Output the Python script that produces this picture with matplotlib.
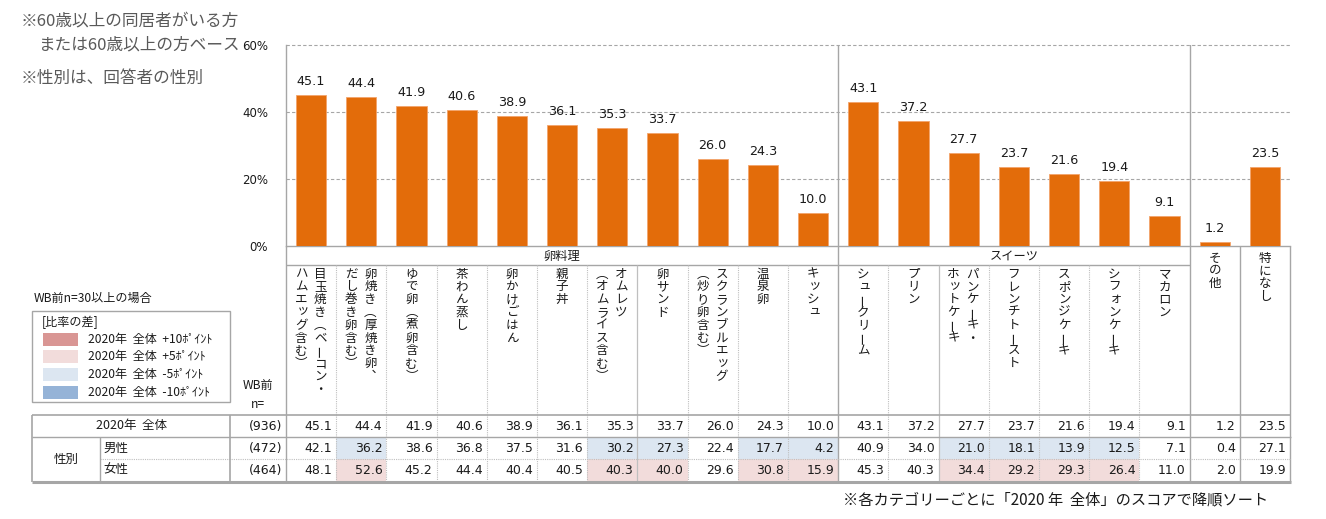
import matplotlib
matplotlib.use('Agg')
import matplotlib.pyplot as plt
from matplotlib.patches import Rectangle
import numpy as np

plt.rcParams['font.family'] = ['Noto Sans CJK JP', 'DejaVu Sans']

# ---------------- data ----------------
categories = [
    ["目玉焼き（ベーコン・", "ハムエッグ含む）"],
    ["卵焼き（厚焼き卵、", "だし巻き卵含む）"],
    ["ゆで卵（煮卵含む）"],
    ["茶わん蒸し"],
    ["卵かけごはん"],
    ["親子丼"],
    ["オムレツ", "（オムライス含む）"],
    ["卵サンド"],
    ["スクランブルエッグ", "（炒り卵含む）"],
    ["温泉卵"],
    ["キッシュ"],
    ["シュークリーム"],
    ["プリン"],
    ["パンケーキ・", "ホットケーキ"],
    ["フレンチトースト"],
    ["スポンジケーキ"],
    ["シフォンケーキ"],
    ["マカロン"],
    ["その他"],
    ["特になし"],
]
group_names = ["卵料理", "スイーツ"]
group_bounds = [(0, 11), (11, 18)]

total = [45.1, 44.4, 41.9, 40.6, 38.9, 36.1, 35.3, 33.7, 26.0, 24.3, 10.0,
         43.1, 37.2, 27.7, 23.7, 21.6, 19.4, 9.1, 1.2, 23.5]
male = [42.1, 36.2, 38.6, 36.8, 37.5, 31.6, 30.2, 27.3, 22.4, 17.7, 4.2,
        40.9, 34.0, 21.0, 18.1, 13.9, 12.5, 7.1, 0.4, 27.1]
female = [48.1, 52.6, 45.2, 44.4, 40.4, 40.5, 40.3, 40.0, 29.6, 30.8, 15.9,
          45.3, 40.3, 34.4, 29.2, 29.3, 26.4, 11.0, 2.0, 19.9]
row_labels = ["2020年  全体", "男性", "女性"]
row_n = [936, 472, 464]
yticks = [0, 20, 40, 60]
legend_labels = ["2020年  全体  +10ﾎﾟｲﾝﾄ", "2020年  全体  +5ﾎﾟｲﾝﾄ",
                 "2020年  全体  -5ﾎﾟｲﾝﾄ", "2020年  全体  -10ﾎﾟｲﾝﾄ"]

# ---------------- style ----------------
ORANGE = '#E36C0A'
GRID = '#A6A6A6'
DOT = '#BFBFBF'
TXT = '#1A1A1A'
NOTE = '#595959'
C_P10, C_P5, C_M5, C_M10 = '#D99694', '#F2DCDB', '#DCE6F1', '#95B3D7'
legend_colors = [C_P10, C_P5, C_M5, C_M10]
NUMFONT = ['DejaVu Sans']

W, H = 1326, 519
fig = plt.figure(figsize=(W / 100, H / 100), dpi=100)
fig.patch.set_facecolor('white')

X0, X1 = 286, 1290
Y_TOP, Y_ZERO, Y_BOT = 45, 246, 482
N = len(total)

# ---------------- bar axes ----------------
ax = fig.add_axes([X0 / W, 1 - Y_ZERO / H, (X1 - X0) / W, (Y_ZERO - Y_TOP) / H])
ax.set_xlim(0, N)
ax.set_ylim(0, 60)
xc = np.arange(N) + 0.5
ax.bar(xc, total, width=0.6, color=ORANGE, edgecolor='#F3A46B',
       linewidth=0.6, zorder=3)
for xi, v in zip(xc, total):
    ax.annotate(f"{v:.1f}", (xi, v), xytext=(0, 5), textcoords='offset points',
                ha='center', va='bottom', fontsize=9.2, color=TXT,
                family=NUMFONT, zorder=4)
ax.hlines([t for t in yticks if t > 0], 0, N, colors=GRID, linewidth=0.8,
          linestyles=(0, (3, 2)), clip_on=False, zorder=1)
ax.set_yticks(yticks)
ax.set_yticklabels([f"{t}%" for t in yticks], family=NUMFONT)
ax.tick_params(axis='y', length=0, pad=13, labelsize=8.5, labelcolor=TXT)
ax.set_xticks([])
for s in ['top', 'right']:
    ax.spines[s].set_visible(False)
for s in ['left', 'bottom']:
    ax.spines[s].set_color(GRID)
    ax.spines[s].set_linewidth(1.0)
for a, b in group_bounds:
    ax.axvline(b, color=GRID, linewidth=1.0, zorder=2)
ax.set_facecolor('none')

# ---------------- table axes (x: categories, y: pixel rows) ----------------
axt = fig.add_axes([X0 / W, 1 - (Y_BOT + 1) / H, (X1 - X0) / W, (Y_BOT + 1 - Y_ZERO) / H])
axt.set_xlim(0, N)
axt.set_ylim(Y_BOT + 1, Y_ZERO)
axt.axis('off')

ROW_TOP = [415, 437, 459]
ROW_H = 22
HDR = 265

axt.hlines(HDR, 0, group_bounds[-1][1], colors=GRID, linewidth=1.0)
for name, (a, b) in zip(group_names, group_bounds):
    axt.text((a + b) / 2, (Y_ZERO + HDR) / 2 + 0.5, name, ha='center', va='center',
             fontsize=8.8, color=TXT)

solid_full = {11, 18, 19}
solid_light = {7, 13}
for i in range(0, N + 1):
    if i == 0 or i == N or i in solid_full:
        axt.vlines(i, Y_ZERO, Y_BOT, colors=GRID, linewidth=1.0, clip_on=False)
    elif i in solid_light:
        axt.vlines(i, HDR, Y_BOT, colors=DOT, linewidth=0.9, clip_on=False)
    else:
        axt.vlines(i, HDR, Y_BOT, colors=DOT, linewidth=0.8,
                   linestyles=(0, (1, 1)), clip_on=False)

# vertical (tategaki) category labels
STEP = 12.8
small = set("ッュョャィォェァゥっょゃゅぁぃぅぇぉ")
vert = {"（": "︵", "）": "︶", "、": "︑"}
rot = {"ー": 90}
for i, lines in enumerate(categories):
    start = 274 if i < group_bounds[-1][1] else 258
    nl = len(lines)
    offs = [0.0] if nl == 1 else [0.18, -0.2]
    for li, line in enumerate(lines):
        xcol = i + 0.5 + offs[li]
        for k, ch in enumerate(line):
            y = start + k * STEP
            dx, dy = 0.0, 0.0
            if ch in small:
                dx, dy = 0.03, -1.5
            axt.text(xcol + dx, y + dy, vert.get(ch, ch), ha='center', va='center',
                     rotation=rot.get(ch, 0), rotation_mode='anchor',
                     fontsize=9, color=TXT)

def cell_color(v, base):
    d = round(v - base, 1)
    if d >= 10:
        return C_P10
    if d >= 5:
        return C_P5
    if d <= -10:
        return C_M10
    if d <= -5:
        return C_M5
    return None

rows = [total, male, female]
for r, vals in enumerate(rows):
    for i, v in enumerate(vals):
        if r > 0:
            c = cell_color(v, total[i])
            if c:
                axt.add_patch(Rectangle((i, ROW_TOP[r]), 1, ROW_H, facecolor=c,
                                        edgecolor='none', zorder=0))
        axt.text(i + 1 - 0.08, ROW_TOP[r] + ROW_H / 2 + 0.5, f"{v:.1f}", ha='right',
                 va='center', fontsize=9, color=TXT, family=NUMFONT)

# ---------------- overlay ----------------
axo = fig.add_axes([0, 0, 1, 1])
axo.set_xlim(0, W)
axo.set_ylim(H, 0)
axo.axis('off')
axo.patch.set_alpha(0)

axo.text(21, 21, "※60歳以上の同居者がいる方", fontsize=12, color=NOTE, va='center')
axo.text(39, 45, "または60歳以上の方ベース", fontsize=12, color=NOTE, va='center')
axo.text(21, 78, "※性別は、回答者の性別", fontsize=12, color=NOTE, va='center')

axo.text(34, 298, "WB前n=30以上の場合", fontsize=8.7, color=TXT, va='center')
axo.add_patch(Rectangle((32, 311), 198, 91, facecolor='white', edgecolor=GRID, linewidth=1.0))
axo.text(42, 322, "[比率の差]", fontsize=8.7, color=TXT, va='center')
for k, (lab, col) in enumerate(zip(legend_labels, legend_colors)):
    yy = 339 + k * 17.7
    axo.add_patch(Rectangle((43, yy - 6.5), 35, 13, facecolor=col, edgecolor='none'))
    axo.text(88, yy, lab, fontsize=8.7, color=TXT, va='center')

axo.text(258, 386, "WB前", fontsize=8.7, color=TXT, ha='center', va='center')
axo.text(258, 405, "n=", fontsize=8.7, color=TXT, ha='center', va='center')

TL, TR = 32, X1 + 1
axo.hlines(ROW_TOP[0], TL, TR, colors=GRID, linewidth=1.2)
axo.hlines(ROW_TOP[1], TL, TR, colors=GRID, linewidth=1.0)
axo.hlines(ROW_TOP[2], 100, TR, colors=DOT, linewidth=0.8, linestyles=(0, (1, 1)))
axo.hlines(Y_BOT, TL, TR, colors=GRID, linewidth=2.2)
axo.vlines(TL, ROW_TOP[0], Y_BOT, colors=GRID, linewidth=1.2)
axo.vlines(230, ROW_TOP[0], Y_BOT, colors=GRID, linewidth=1.2)
axo.vlines(100, ROW_TOP[1], Y_BOT, colors=GRID, linewidth=1.0)

axo.text(131, ROW_TOP[0] + ROW_H / 2, row_labels[0], fontsize=9, color=TXT,
         ha='center', va='center')
axo.text(66, ROW_TOP[1] + ROW_H, "性別", fontsize=9, color=TXT, ha='center', va='center')
for r in (1, 2):
    axo.text(103, ROW_TOP[r] + ROW_H / 2, row_labels[r], fontsize=9, color=TXT,
             ha='left', va='center')
for r in range(3):
    axo.text(282, ROW_TOP[r] + ROW_H / 2 + 0.5, f"({row_n[r]})", fontsize=9, color=TXT,
             ha='right', va='center', family=NUMFONT)

axo.text(843, 500, "※各カテゴリーごとに「2020 年  全体」のスコアで降順ソート",
         fontsize=11, color=TXT, ha='left', va='center')

fig.savefig('out.png', dpi=100, facecolor='white')
